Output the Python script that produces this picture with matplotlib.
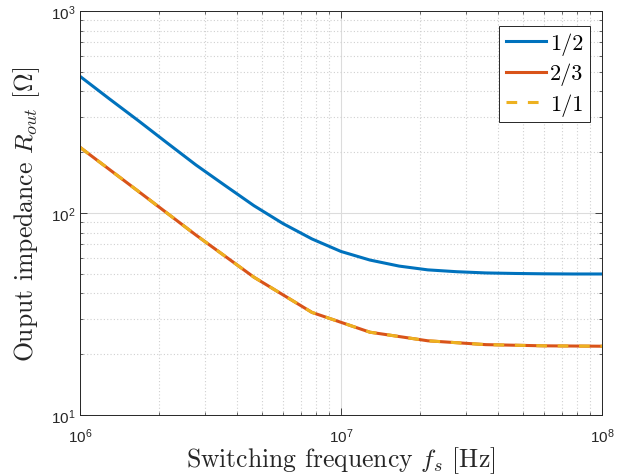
import numpy as np
import matplotlib
matplotlib.use("Agg")
from matplotlib import pyplot as plt
from matplotlib.ticker import LogLocator, NullFormatter

# frequencies (Hz) the curves were read at
freq_fine = [1e6, 1.29e6, 1.67e6, 2.15e6, 2.78e6, 3.59e6, 4.64e6, 5.99e6, 7.74e6,
             1e7, 1.29e7, 1.67e7, 2.15e7, 2.78e7, 3.59e7, 4.64e7, 5.99e7, 7.74e7, 1e8]
freq_coarse = [1e6, 1.67e6, 2.78e6, 4.64e6, 7.74e6, 1.29e7, 2.15e7, 3.59e7, 5.99e7, 1e8]

# output impedance (Ohm)
r_half = [475, 369, 287, 223, 173, 137, 108.7, 88.7, 74.4,
          64.5, 58.5, 54.6, 52.3, 51.2, 50.5, 50.2, 50.0, 49.9, 49.9]
r_two_thirds = [211.5, 128.3, 77.8, 48.1, 32.2, 25.7, 23.3, 22.3, 22.0, 21.9]
r_one = [211.5, 128.3, 77.8, 48.1, 32.2, 25.7, 23.3, 22.3, 22.0, 21.9]

labels = ["1/2", "2/3", "1/1"]

plt.rcParams['font.family'] = ['Liberation Sans', 'DejaVu Sans']


def main():
    fig = plt.figure(figsize=(6.28, 4.77), dpi=100)
    ax = fig.add_axes([0.1274, 0.1279, 0.8312, 0.8469])

    ax.loglog(freq_fine, r_half, color='#0072BD', lw=2.2, label=labels[0])
    ax.loglog(freq_coarse, r_two_thirds, color='#D95319', lw=2.2, label=labels[1])
    ax.loglog(freq_coarse, r_one, color='#EDB120', lw=2.2, ls=(0, (3.5, 3.5)), label=labels[2])

    ax.set_xlim(1e6, 1e8)
    ax.set_ylim(10, 1000)

    ax.xaxis.set_major_locator(LogLocator(base=10, numticks=10))
    ax.yaxis.set_major_locator(LogLocator(base=10, numticks=10))
    ax.xaxis.set_minor_locator(LogLocator(base=10, subs=np.arange(2, 10), numticks=20))
    ax.yaxis.set_minor_locator(LogLocator(base=10, subs=np.arange(2, 10), numticks=20))
    ax.xaxis.set_minor_formatter(NullFormatter())
    ax.yaxis.set_minor_formatter(NullFormatter())

    ax.grid(True, which='major', color='#dcdcdc', lw=0.8, ls='-')
    ax.grid(True, which='minor', color='#d0d0d0', lw=0.8, ls=(0, (1, 2)))
    ax.set_axisbelow(True)

    ax.tick_params(which='both', direction='in', top=True, right=True, color='#262626',
                   labelsize=11, labelcolor='#262626')
    ax.tick_params(which='major', length=5, width=0.6)
    ax.tick_params(which='minor', length=2.5, width=0.5)
    ax.tick_params(axis='x', pad=8)
    for s in ax.spines.values():
        s.set_color('#262626')
        s.set_linewidth(0.7)

    ax.set_xlabel(r"Switching frequency $f_s$ [Hz]", fontsize=18.5, family='cmr10',
                  math_fontfamily='cm', labelpad=0, color='#262626')
    ax.set_ylabel(r"Ouput impedance $R_{out}$ [$\mathit{\Omega}$]", fontsize=18.5,
                  family='cmr10', math_fontfamily='cm', labelpad=6, color='#262626')

    leg = ax.legend(loc='upper right', bbox_to_anchor=(0.977, 0.963),
                    prop={'family': 'cmr10', 'size': 16},
                    fancybox=False, framealpha=1, edgecolor='#262626',
                    handlelength=1.8, handletextpad=0.2, borderpad=0.3,
                    labelspacing=0.35, borderaxespad=0)
    leg.get_frame().set_linewidth(0.7)

    fig.savefig("out.png", dpi=100)


if __name__ == "__main__":
    main()
